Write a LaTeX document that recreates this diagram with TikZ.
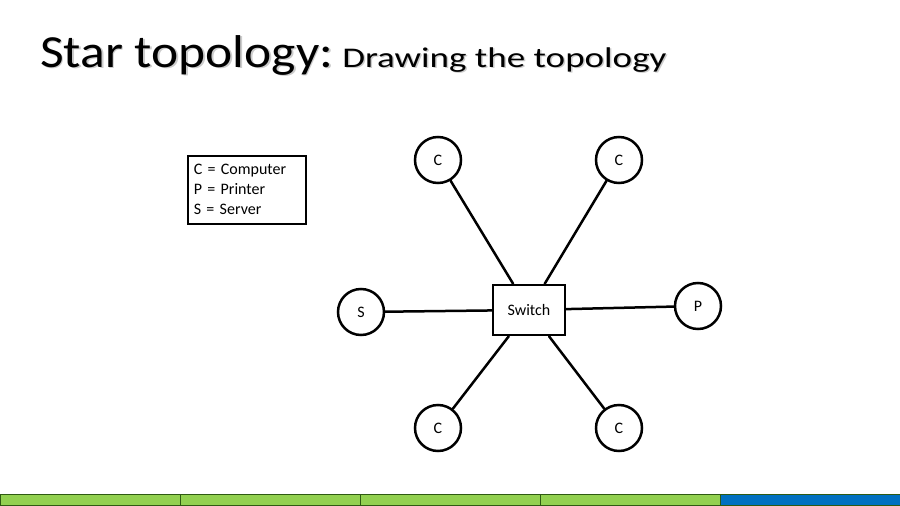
\documentclass[tikz,border=0pt]{standalone}
\usepackage{fontspec}
\setmainfont{Carlito}
\usepackage{xcolor}
\definecolor{barGreen}{HTML}{92D050}
\definecolor{barBlue}{HTML}{0070C0}
\definecolor{barEdge}{HTML}{2E5A12}

\begin{document}
\begin{tikzpicture}[x=1pt,y=-1pt,line cap=round,
  dev/.style={circle,draw,line width=2.5pt,minimum size=46pt,inner sep=0pt,font=\fontsize{16}{18}\selectfont},
  link/.style={line width=2.5pt},
  bigtitle/.style={anchor=base west,inner sep=0pt,xscale=1.12,font=\fontsize{46}{54}\selectfont},
  subtitle/.style={anchor=base west,inner sep=0pt,xscale=1.30,font=\fontsize{28.5}{34}\selectfont}]
\useasboundingbox (0,0) rectangle (900,506);
% title with its soft shadow
\node[bigtitle,text=gray!40] (tshadow) at (41.5,68.5) {Star topology:};
\node[subtitle,text=gray!40] (sshadow) at (343.5,68.5) {Drawing the topology};
\node[bigtitle] (title) at (40,67) {Star topology:};
\node[subtitle] (sub) at (342,67) {Drawing the topology};
% key
\node[draw,line width=1.5pt,anchor=north west,align=left,text width=106pt,inner xsep=6pt,minimum height=68pt,font=\fontsize{16}{20}\selectfont] (key) at (187,155) {C = Computer\\P = Printer\\S = Server};
% hub and devices
\node[draw,line width=2.5pt,minimum width=72pt,minimum height=50pt,font=\fontsize{16}{18}\selectfont] (sw) at (529,310) {Switch};
\node[dev] (c1) at (438,160) {C};
\node[dev] (c2) at (619,160) {C};
\node[dev] (s) at (361,312) {S};
\node[dev] (p) at (698,306) {P};
\node[dev] (c3) at (438,428) {C};
\node[dev] (c4) at (619,428) {C};
\draw[link] (c1) -- (sw);
\draw[link] (c2) -- (sw);
\draw[link] (s) -- (sw);
\draw[link] (p) -- (sw);
\draw[link] (c3) -- (sw);
\draw[link] (c4) -- (sw);
% footer bar
\foreach \i in {0,...,3}
  \draw[barEdge,fill=barGreen,line width=1pt] (\i*180,494) rectangle (\i*180+180,505);
\draw[barEdge,fill=barBlue,line width=1pt] (720,494) rectangle (900,505);
\end{tikzpicture}
\end{document}
